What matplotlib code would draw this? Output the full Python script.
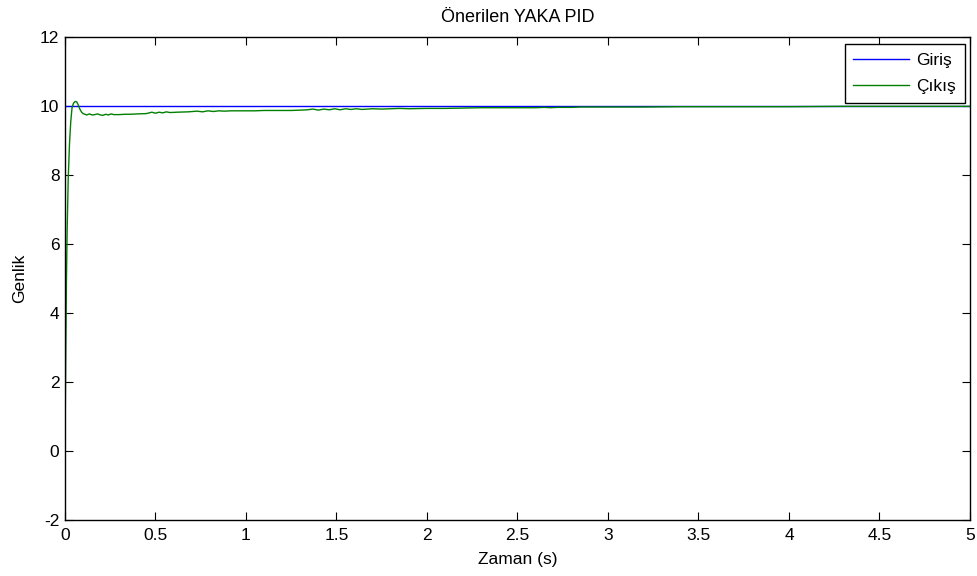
import matplotlib
matplotlib.use("Agg")
import matplotlib.pyplot as plt

plt.rcParams['font.family'] = ['Liberation Sans', 'DejaVu Sans']
plt.rcParams['axes.unicode_minus'] = False

title = "Önerilen YAKA PID"
xlabel = "Zaman (s)"
ylabel = "Genlik"
legend_labels = ["Giriş", "Çıkış"]

# Reference input (step)
t_in = [0.0, 5.0]
y_in = [10.0, 10.0]

# Output response
t_out = [0.0, 0.004, 0.008, 0.012, 0.018, 0.025, 0.032, 0.039, 0.047, 0.056, 0.065,
         0.074, 0.083, 0.092, 0.10, 0.11, 0.12, 0.135, 0.15, 0.165, 0.18, 0.195,
         0.21, 0.225, 0.24, 0.255, 0.27, 0.30, 0.33, 0.36, 0.40, 0.45, 0.48, 0.50,
         0.52, 0.54, 0.56, 0.58, 0.62, 0.68, 0.73, 0.76, 0.79, 0.82, 0.85, 0.88,
         0.92, 1.0, 1.05, 1.1, 1.15, 1.2, 1.25, 1.3, 1.34, 1.37, 1.40, 1.43, 1.46,
         1.49, 1.52, 1.55, 1.58, 1.61, 1.64, 1.7, 1.75, 1.8, 1.85, 1.9, 2.0, 2.1,
         2.2, 2.3, 2.5, 2.6, 2.65, 2.68, 2.72, 2.75, 2.8, 2.85, 3.0, 3.1, 3.2,
         3.4, 3.6, 3.8, 4.0, 4.3, 4.6, 5.0]
y_out = [0.0, 2.6, 4.9, 6.4, 7.9, 8.9, 9.55, 9.95, 10.08, 10.13, 10.12,
         10.02, 9.9, 9.82, 9.78, 9.76, 9.74, 9.77, 9.74, 9.75, 9.77, 9.74,
         9.73, 9.76, 9.74, 9.77, 9.75, 9.75, 9.76, 9.76, 9.77, 9.78, 9.82, 9.79,
         9.82, 9.80, 9.83, 9.81, 9.82, 9.83, 9.85, 9.83, 9.86, 9.84, 9.86, 9.85,
         9.86, 9.86, 9.86, 9.87, 9.87, 9.87, 9.87, 9.88, 9.89, 9.91, 9.88, 9.91,
         9.89, 9.92, 9.89, 9.92, 9.90, 9.92, 9.90, 9.92, 9.91, 9.92, 9.93, 9.92,
         9.93, 9.93, 9.94, 9.95, 9.95, 9.95, 9.96, 9.95, 9.96, 9.96, 9.96, 9.97,
         9.97, 9.97, 9.97, 9.98, 9.98, 9.98, 9.98, 9.99, 9.99, 9.99]

xticks = [0, 0.5, 1, 1.5, 2, 2.5, 3, 3.5, 4, 4.5, 5]
xticklabels = ["0", "0.5", "1", "1.5", "2", "2.5", "3", "3.5", "4", "4.5", "5"]
yticks = [-2, 0, 2, 4, 6, 8, 10, 12]

fig = plt.figure(figsize=(9.77, 5.76), dpi=100)
ax = fig.add_axes([0.0665, 0.0972, 0.9263, 0.8386])

ax.plot(t_in, y_in, color=(0, 0, 1), lw=1.0, label=legend_labels[0])
ax.plot(t_out, y_out, color=(0, 0.5, 0), lw=1.0, label=legend_labels[1])

ax.set_xlim(0, 5)
ax.set_ylim(-2, 12)
ax.set_xticks(xticks)
ax.set_xticklabels(xticklabels)
ax.set_yticks(yticks)
ax.tick_params(direction='in', length=6, width=0.8, top=True, right=True,
               labelsize=12.5)
ax.tick_params(axis='x', pad=6)
ax.tick_params(axis='y', pad=4)
for s in ax.spines.values():
    s.set_linewidth(1.0)

ax.set_title(title, fontsize=13, pad=11)
ax.set_xlabel(xlabel, fontsize=12.5, labelpad=6)
ax.set_ylabel(ylabel, fontsize=12.5, labelpad=9)

leg = ax.legend(loc='upper right', bbox_to_anchor=(0.9945, 0.985), fontsize=12.5,
                fancybox=False, framealpha=1, edgecolor='black',
                handlelength=3.2, borderpad=0.5, labelspacing=0.65, handletextpad=0.45,
                borderaxespad=0)
leg.get_frame().set_linewidth(1.0)

fig.savefig("out.png", dpi=100)
